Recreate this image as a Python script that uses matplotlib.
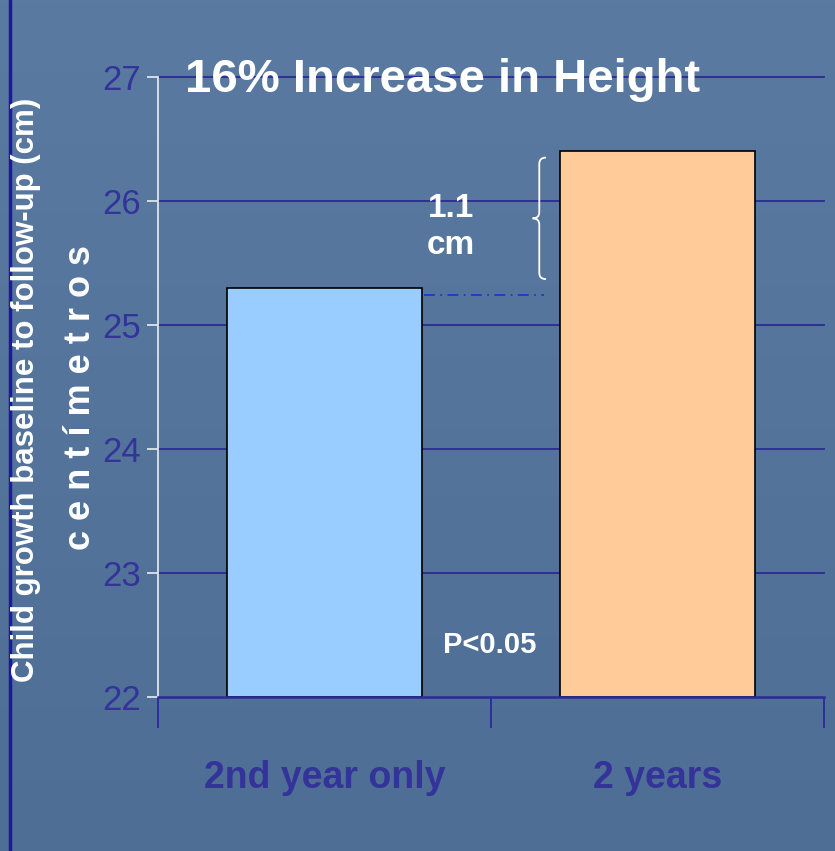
import numpy as np
import matplotlib
matplotlib.use('Agg')
import matplotlib.pyplot as plt
from matplotlib.path import Path
from matplotlib.patches import PathPatch
from matplotlib.colors import LinearSegmentedColormap

groups = ['2nd year only', '2 years']
heights = [25.3, 26.4]
bar_colors = ['#99ccff', '#ffcc99']
yticks = [22, 23, 24, 25, 26, 27]

narrow = ['Liberation Sans Narrow', 'Liberation Sans', 'DejaVu Sans']
bold = ['Liberation Sans', 'DejaVu Sans']

fig = plt.figure(figsize=(8.35, 8.51), dpi=100)

# background: soft vertical gradient in blue-grey
bg = fig.add_axes([0, 0, 1, 1], zorder=-10)
grad = np.linspace(0, 1, 256).reshape(-1, 1)
cmap = LinearSegmentedColormap.from_list('bg', ['#4e6e96', '#5a7aa2'])
bg.imshow(grad, aspect='auto', cmap=cmap, origin='lower', extent=[0, 1, 0, 1])
bg.axvline(0.0125, color='#1a1aa0', lw=2.5)
bg.set_xlim(0, 1)
bg.set_ylim(0, 1)
bg.axis('off')

W, H = 835, 851
ax = fig.add_axes([158 / W, 1 - 697 / H, (824 - 158) / W, (697 - 77) / H])
ax.set_facecolor('none')

x = np.arange(len(groups))
ax.bar(x, [h - 22 for h in heights], bottom=22, width=0.585, color=bar_colors,
       edgecolor='black', linewidth=1.2, zorder=3)
ax.set_xlim(-0.5, 1.5)
ax.set_ylim(22, 27)

for y in yticks[1:]:
    ax.axhline(y, color='#2a2a9a', lw=1.3, zorder=1, clip_on=False)

for s in ['top', 'right']:
    ax.spines[s].set_visible(False)
ax.spines['left'].set_color('#dde4ee')
ax.spines['left'].set_linewidth(1.3)
ax.spines['bottom'].set_color('#2a2a9a')
ax.spines['bottom'].set_linewidth(1.8)
ax.spines['bottom'].set_zorder(4)

ax.set_yticks(yticks)
ax.set_yticklabels([str(t) for t in yticks], fontsize=25, color='#33339a',
                   family=narrow)
ax.tick_params(axis='y', color='#dde4ee', length=8, width=1.3, pad=4)
ax.set_xticks([-0.5, 0.5, 1.5])
ax.set_xticklabels([])
ax.tick_params(axis='x', color='#2a2a9a', length=22, width=1.3, direction='out')
for i, g in enumerate(groups):
    ax.text(x[i], 21.35, g, ha='center', va='center', fontsize=27,
            fontweight='bold', color='#33339a', family=narrow)

# title
fig.text(185 / W, 1 - 80 / H, '16% Increase in Height', fontsize=34,
         fontweight='bold', color='white', va='center', ha='left', family=bold)

# y labels
fig.text(26 / W, 1 - 390 / H, 'Child growth baseline to follow-up (cm)',
         rotation=90, fontsize=22.5, fontweight='bold', color='white',
         ha='center', va='center', family=narrow)
fig.text(81 / W, 1 - 397 / H, 'c e n t í m e t r o s', rotation=90,
         fontsize=26, fontweight='bold', color='white', ha='center',
         va='center', family=narrow)

# difference annotation
ax.text(0.38, 25.79, '1.1\ncm', fontsize=24, fontweight='bold', color='white',
        ha='center', va='center', linespacing=1.25, family=bold, zorder=5)
ax.plot([0.3, 0.66], [25.24, 25.24], color='#1a3ad0', lw=1.3,
        linestyle=(0, (6, 3, 1, 3)), zorder=2)
ax.text(0.497, 22.42, 'P<0.05', fontsize=21, fontweight='bold', color='white',
        ha='center', va='center', family=bold, zorder=5)

# curly brace
bx, tip, top, bot = 0.645, 0.625, 26.35, 25.37
mid = (top + bot) / 2
verts = [(bx + 0.02, top), (bx, top), (bx, top - 0.05),
         (bx, mid + 0.05), (bx, mid), (tip, mid),
         (bx, mid), (bx, mid - 0.05),
         (bx, bot + 0.05), (bx, bot), (bx + 0.02, bot)]
codes = [Path.MOVETO, Path.CURVE3, Path.CURVE3,
         Path.LINETO, Path.CURVE3, Path.CURVE3,
         Path.CURVE3, Path.CURVE3,
         Path.LINETO, Path.CURVE3, Path.CURVE3]
ax.add_patch(PathPatch(Path(verts, codes), fill=False, edgecolor='white',
                       lw=1.3, zorder=5))

fig.savefig('out.png', dpi=100)
